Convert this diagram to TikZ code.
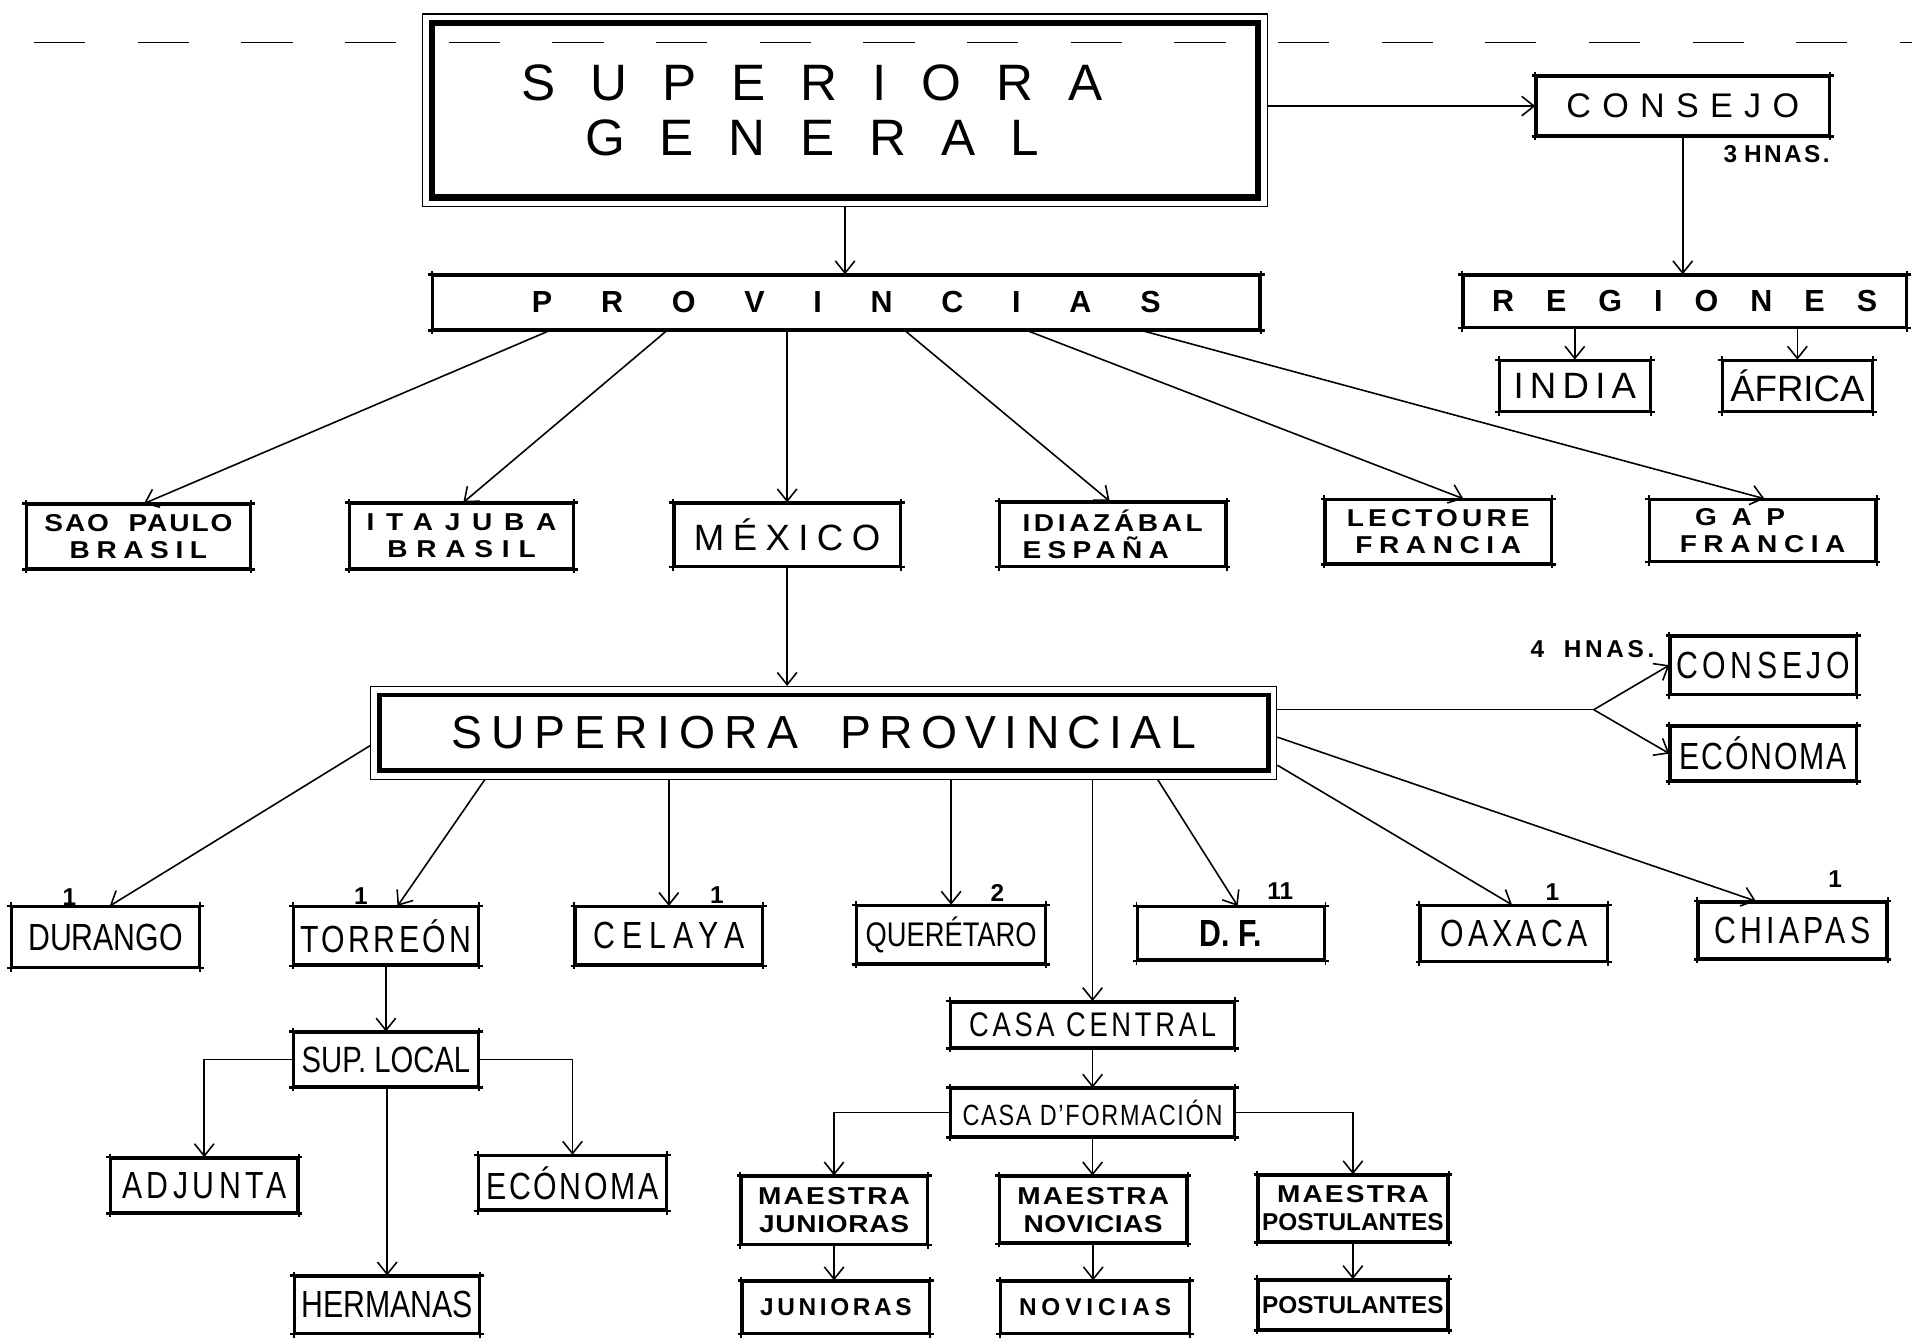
\documentclass[tikz,border=0pt]{standalone}
\usepackage{fontspec}
\setmainfont{Liberation Sans}
\usetikzlibrary{arrows.meta,fit}

\newcommand{\tam}[2]{\fontsize{#1}{#2}\selectfont}
\newcommand{\ls}[2]{{\addfontfeature{LetterSpace=#1}#2}}
\newcommand{\angosta}{\addfontfeature{FakeStretch=0.8}}
\newcommand{\ancha}{\addfontfeature{FakeStretch=1.15}}

\begin{document}
\begin{tikzpicture}[x=1pt,y=-1pt,
    caja/.style={draw,line width=2pt,inner sep=0pt,align=center,
      append after command={\pgfextra{\let\cajanodo\tikzlastnode}
        ([xshift=-3pt]\cajanodo.north west) edge[line width=2pt] ([xshift=3pt]\cajanodo.north east)
        ([xshift=-3pt]\cajanodo.south west) edge[line width=2pt] ([xshift=3pt]\cajanodo.south east)
        ([yshift=3pt]\cajanodo.north west) edge[line width=1.6pt] ([yshift=-3pt]\cajanodo.south west)
        ([yshift=3pt]\cajanodo.north east) edge[line width=1.6pt] ([yshift=-3pt]\cajanodo.south east)}},
    chica/.style={caja,font=\bfseries\tam{20}{22}},
    ciudad/.style={caja,font=\tam{31}{31}\angosta},
    marco/.style={draw,line width=1pt,inner sep=5pt},
    flecha/.style={line width=1.3pt,-{Straight Barb[length=10pt,width=16pt]}},
    linea/.style={line width=1.3pt},
    cuenta/.style={inner sep=0pt,font=\bfseries\tam{20}{20}}]
\useasboundingbox (0,0) rectangle (1568,1099);

\draw[line width=0.8pt,dash pattern=on 42pt off 43pt] (28,35) -- (1568,35);

% superiora general
\node[draw,line width=5pt,inner sep=0pt,minimum width=678pt,minimum height=143pt] (sg) at (693,90.5) {};
\node[marco,fit=(sg)] (sgmarco) {};
\node[font=\tam{42}{45},align=center] (sgtexto) at (666,90.5) {\ls{68}{SUPERIORA}\\\ls{68}{GENERAL}};

\node[caja,minimum width=240pt,minimum height=48pt,font=\tam{28}{30}] (consejo) at (1380,87) {\ls{33}{CONSEJO}};
\node[font=\bfseries\tam{20}{20},inner sep=0pt] (hnastres) at (1457,126) {3 \ls{10}{HNAS.}};
\node[caja,minimum width=363pt,minimum height=42pt,font=\bfseries\tam{25}{25}] (regiones) at (1381.5,247) {\ls{105}{REGIONES}};
\node[caja,minimum width=123pt,minimum height=41pt,font=\tam{30}{30}] (india) at (1291.5,316.5) {\ls{17}{INDIA}};
\node[caja,minimum width=122pt,minimum height=41pt,font=\tam{30}{30}] (africa) at (1474,316.5) {ÁFRICA};

\draw[flecha] (sgmarco.east |- consejo) -- (consejo.west);
\draw[flecha] (consejo.south) -- (consejo.south |- regiones.north);
\draw[flecha] (regiones.south -| india) -- (india.north);
\draw[flecha] (regiones.south -| africa) -- (africa.north);

% provincias
\node[caja,minimum width=678pt,minimum height=44pt,font=\bfseries\tam{25}{25}] (prov) at (694,248) {\ls{160}{PROVINCIAS}};
\draw[flecha] (sgmarco.south) -- (sgmarco.south |- prov.north);

\node[chica,minimum width=183pt,minimum height=52pt] (saopaulo) at (113.5,440) {\ancha\ls{8}{SAO\hspace{0.8em}PAULO}\\\ancha\ls{27}{BRASIL}};
\node[chica,minimum width=183pt,minimum height=53pt] (itajuba) at (378.5,439.5) {\ancha\ls{48}{ITAJUBA}\\\ancha\ls{36}{BRASIL}};
\node[caja,minimum width=185pt,minimum height=51pt,font=\tam{30}{30}] (mexico) at (645.5,438.5) {\ls{23}{MÉXICO}};
\node[chica,minimum width=185pt,minimum height=52pt,align=left] (idiazabal) at (912.5,438) {\ancha\ls{15}{IDIAZÁBAL}\\\ancha\ls{26}{ESPAÑA}};
\node[chica,minimum width=185pt,minimum height=52pt] (lectoure) at (1179.5,436) {\ancha\ls{17}{LECTOURE}\\\ancha\ls{27}{FRANCIA}};
\node[chica,minimum width=185pt,minimum height=50pt] (gap) at (1445.5,435) {\ancha\ls{60}{GAP}\hspace*{37pt}\\\ancha\ls{27}{FRANCIA}};

\draw[flecha] ([xshift=97pt]prov.south west) -- ([xshift=4.5pt]saopaulo.north);
\draw[flecha] ([xshift=193pt]prov.south west) -- ([xshift=1.5pt]itajuba.north);
\draw[flecha] (prov.south -| mexico) -- (mexico.north);
\draw[flecha] ([xshift=388pt]prov.south west) -- ([xshift=-2.5pt]idiazabal.north);
\draw[flecha] ([xshift=488pt]prov.south west) -- ([xshift=20.5pt]lectoure.north);
\draw[flecha] ([xshift=582pt]prov.south west) -- ([xshift=1.5pt]gap.north);

% superiora provincial
\node[draw,line width=4pt,inner sep=0pt,minimum width=729pt,minimum height=62pt,font=\tam{38}{38}] (sp) at (675.5,601) {\ls{20}{SUPERIORA}\hspace{0.9em}\ls{18}{PROVINCIAL}};
\node[marco,fit=(sp)] (spmarco) {};
\draw[flecha] (mexico.south) -- (mexico.south |- spmarco.north);

\node[ciudad,minimum width=152pt,minimum height=47pt] (consejob) at (1446,545.5) {\ls{12}{CONSEJO}};
\node[ciudad,minimum width=152pt,minimum height=44pt] (economab) at (1446,618) {\ls{5}{ECÓNOMA}};
\node[font=\bfseries\tam{20}{20},inner sep=0pt] (hnascuatro) at (1306,532) {4\hspace{0.8em}\ls{15}{HNAS.}};
\coordinate (rama) at (1307,582);
\draw[linea] (spmarco.east |- rama) -- (rama);
\draw[flecha] (rama) -- (consejob.west);
\draw[flecha] (rama) -- (economab.west);

\node[ciudad,minimum width=153pt,minimum height=49pt] (durango) at (86.5,768.5) {DURANGO};
\node[ciudad,minimum width=151pt,minimum height=47pt] (torreon) at (316.5,767.5) {\ls{9}{TORREÓN}};
\node[ciudad,minimum width=153pt,minimum height=47pt] (celaya) at (548.5,767.5) {\ls{19}{CELAYA}};
\node[caja,minimum width=154pt,minimum height=47pt,font=\tam{28}{28}\angosta] (queretaro) at (780,766.5) {QUERÉTARO};
\node[ciudad,minimum width=153pt,minimum height=43pt] (df) at (1009.5,765.5) {\textbf{D. F.}};
\node[ciudad,minimum width=153pt,minimum height=45pt] (oaxaca) at (1241.5,765.5) {\ls{11}{OAXACA}};
\node[ciudad,minimum width=154pt,minimum height=46pt] (chiapas) at (1470,763) {\ls{11}{CHIAPAS}};

\node[cuenta] (ndurango) at (57,736) {1};
\node[cuenta] (ntorreon) at (296,735) {1};
\node[cuenta] (ncelaya) at (588,734) {1};
\node[cuenta] (nqueretaro) at (818,732) {2};
\node[cuenta] (ndf) at (1050,731) {11};
\node[cuenta] (noaxaca) at (1273,732) {1};
\node[cuenta] (nchiapas) at (1505,721) {1};

\draw[flecha] ([yshift=-10.5pt]spmarco.west) -- ([xshift=3.5pt]durango.north);
\draw[flecha] ([xshift=94pt]spmarco.south west) -- ([xshift=9.5pt]torreon.north);
\draw[flecha] (spmarco.south -| celaya) -- (celaya.north);
\draw[flecha] (spmarco.south -| queretaro) -- (queretaro.north);
\draw[flecha] ([xshift=646pt]spmarco.south west) -- ([xshift=5.5pt]df.north);
\draw[flecha] ([yshift=-26.5pt]spmarco.east) -- ([xshift=-1.5pt]oaxaca.north);
\draw[flecha] ([yshift=-3.5pt]spmarco.east) -- ([xshift=-30pt]chiapas.north);

% casa local
\node[caja,minimum width=151pt,minimum height=44pt,font=\tam{30}{30}\angosta] (suplocal) at (316.5,869) {SUP. LOCAL};
\node[ciudad,minimum width=153pt,minimum height=44pt] (adjunta) at (167.5,972) {\ls{12}{ADJUNTA}};
\node[ciudad,minimum width=153pt,minimum height=44pt] (economa) at (469.5,970) {\ls{7}{ECÓNOMA}};
\node[ciudad,minimum width=151pt,minimum height=46pt] (hermanas) at (317.5,1070) {HERMANAS};

\draw[flecha] (torreon.south) -- (suplocal.north);
\draw[flecha] (suplocal.west) -| (adjunta.north);
\draw[flecha] (suplocal.east) -| (economa.north);
\draw[flecha] (suplocal.south -| hermanas) -- (hermanas.north);

% casa central
\node[caja,minimum width=232pt,minimum height=37pt,font=\tam{28}{28}\angosta] (casacentral) at (896,840.5) {\ls{11}{CASA CENTRAL}};
\node[caja,minimum width=232pt,minimum height=39pt,font=\tam{24}{24}\angosta] (casaformacion) at (896,912.5) {\ls{6}{CASA D'FORMACIÓN}};
\draw[flecha] (spmarco.south -| casacentral) -- (casacentral.north);
\draw[flecha] (casacentral.south) -- (casaformacion.north);

\node[chica,minimum width=152pt,minimum height=55pt,font=\bfseries\tam{20}{23}] (mjunioras) at (684,992.5) {\ancha\ls{9}{MAESTRA}\\\ancha\ls{3}{JUNIORAS}};
\node[chica,minimum width=153pt,minimum height=54pt,font=\bfseries\tam{20}{23}] (mnovicias) at (896.5,992) {\ancha\ls{9}{MAESTRA}\\\ancha\ls{2}{NOVICIAS}};
\node[chica,minimum width=155pt,minimum height=54pt,font=\bfseries\tam{20}{23}] (mpostulantes) at (1109.5,991) {\ancha\ls{9}{MAESTRA}\\POSTULANTES};
\node[caja,minimum width=153pt,minimum height=42pt,font=\bfseries\tam{20}{20}] (junioras) at (685.5,1072) {\ls{15}{JUNIORAS}};
\node[caja,minimum width=154pt,minimum height=42pt,font=\bfseries\tam{20}{20}] (novicias) at (898,1072) {\ls{20}{NOVICIAS}};
\node[caja,minimum width=155pt,minimum height=40pt,font=\bfseries\tam{20}{20}] (postulantes) at (1109.5,1070) {POSTULANTES};

\draw[flecha] (casaformacion.west) -| (mjunioras.north);
\draw[flecha] (casaformacion.south) -- (casaformacion.south |- mnovicias.north);
\draw[flecha] (casaformacion.east) -| (mpostulantes.north);
\draw[flecha] (mjunioras.south) -- (mjunioras.south |- junioras.north);
\draw[flecha] (mnovicias.south) -- (mnovicias.south |- novicias.north);
\draw[flecha] (mpostulantes.south) -- (mpostulantes.south |- postulantes.north);
\end{tikzpicture}
\end{document}
